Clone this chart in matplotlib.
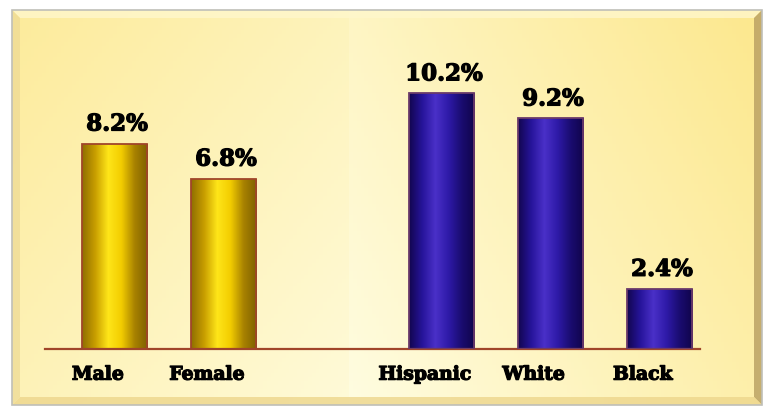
import numpy as np
import matplotlib
matplotlib.use("Agg")
import matplotlib.pyplot as plt
import matplotlib.patheffects as pe
from matplotlib.colors import LinearSegmentedColormap
from matplotlib.patches import Rectangle
from matplotlib.transforms import ScaledTranslation

categories = ["Male", "Female", "Hispanic", "White", "Black"]
positions = [0, 1, 3, 4, 5]
values = [8.2, 6.8, 10.2, 9.2, 2.4]
labels = ["8.2%", "6.8%", "10.2%", "9.2%", "2.4%"]
groups = ["gold", "gold", "blue", "blue", "blue"]

W, H = 768, 408
fig = plt.figure(figsize=(W / 100, H / 100), dpi=100)
fig.patch.set_facecolor("white")

# background panel
bg = fig.add_axes([0, 0, 1, 1])
bg.set_xlim(0, W)
bg.set_ylim(H, 0)
bg.axis("off")
x0, x1, y0, y1 = 12, 762, 10, 405
nx, ny = 200, 100
gx = np.linspace(0, 1, nx)
gy = np.linspace(0, 1, ny)
GX, GY = np.meshgrid(gx, gy)
light = np.array([1.0, 0.99, 0.88])
yellow = np.array([0.99, 0.91, 0.56])
d = np.where(GX > 0.45, 0.55 * (GX - 0.45) * 2.2 + 0.35 * (1 - GY),
             0.55 * (0.45 - GX) * 1.6 + 0.35 * (1 - GY) + 0.1)
d = np.clip(d, 0, 1)
img = light[None, None, :] * (1 - d[..., None]) + yellow[None, None, :] * d[..., None]
bg.imshow(img, extent=[x0, x1, y1, y0], aspect="auto", zorder=1)
bev = 8
bg.add_patch(plt.Polygon([[x0, y0], [x1, y0], [x1 - bev, y0 + bev], [x0 + bev, y0 + bev]],
                         color=(1.0, 0.97, 0.8), alpha=0.8, zorder=2, lw=0))
bg.add_patch(plt.Polygon([[x0, y0], [x0 + bev, y0 + bev], [x0 + bev, y1 - bev], [x0, y1]],
                         color=(0.93, 0.85, 0.58), alpha=0.7, zorder=2, lw=0))
bg.add_patch(plt.Polygon([[x1, y0], [x1, y1], [x1 - bev, y1 - bev], [x1 - bev, y0 + bev]],
                         color=(0.72, 0.62, 0.38), alpha=0.8, zorder=2, lw=0))
bg.add_patch(plt.Polygon([[x0, y1], [x1, y1], [x1 - bev, y1 - bev], [x0 + bev, y1 - bev]],
                         color=(0.93, 0.84, 0.55), alpha=0.8, zorder=2, lw=0))
bg.add_patch(Rectangle((x0, y0), x1 - x0, y1 - y0, fill=False, ec=(0.75, 0.75, 0.72), lw=1.2, zorder=3))

# main axes
ax_l, ax_r = 45, 700
ax_b, ax_t = 349, 40
ax = fig.add_axes([ax_l / W, 1 - ax_b / H, (ax_r - ax_l) / W, (ax_b - ax_t) / H])
ax.patch.set_alpha(0)
for s in ["top", "right", "left"]:
    ax.spines[s].set_visible(False)
ax.spines["bottom"].set_color("#A0452A")
ax.spines["bottom"].set_linewidth(1.6)
ax.set_yticks([])
ax.set_xticks(positions)
thick = [pe.withStroke(linewidth=0.9, foreground="black")]
ax.set_xticklabels(categories, fontsize=13.5, fontweight="bold", family="DejaVu Serif")
ax.tick_params(axis="x", length=0, pad=12)
shift = ScaledTranslation(-0.17, 0, fig.dpi_scale_trans)
for lab in ax.get_xticklabels():
    lab.set_transform(lab.get_transform() + shift)
    lab.set_path_effects(thick)

gold_cmap = LinearSegmentedColormap.from_list("g", ["#8E6E00", "#C89E00", "#FFE619", "#F2CC00", "#A88200", "#7E6000"])
blue_cmap = LinearSegmentedColormap.from_list("b", ["#12064F", "#26149A", "#4A30C8", "#2E1AA8", "#1A0C70", "#10044A"])
edge = {"gold": "#A0452A", "blue": "#6A3A6A"}
cm = {"gold": gold_cmap, "blue": blue_cmap}

bars = ax.bar(positions, values, width=0.6, zorder=3)
grad = np.linspace(0, 1, 256)[None, :]
for b, g in zip(bars, groups):
    b.set_facecolor("none")
    b.set_edgecolor(edge[g])
    b.set_linewidth(1.3)
    bx, by = b.get_x(), b.get_y()
    bw, bh = b.get_width(), b.get_height()
    im = ax.imshow(grad, cmap=cm[g], extent=[bx, bx + bw, by, by + bh], aspect="auto", zorder=2)
    im.set_clip_path(b)

for p, v, t in zip(positions, values, labels):
    ax.text(p + 0.02, v + 0.32, t, ha="center", va="bottom", fontsize=16.5, fontweight="bold",
            family="DejaVu Serif", color="black", zorder=4, path_effects=thick)

ax.set_xlim(-0.64, 5.37)
ax.set_ylim(0, 12.33)
fig.savefig("out.png", dpi=100, facecolor="white")
